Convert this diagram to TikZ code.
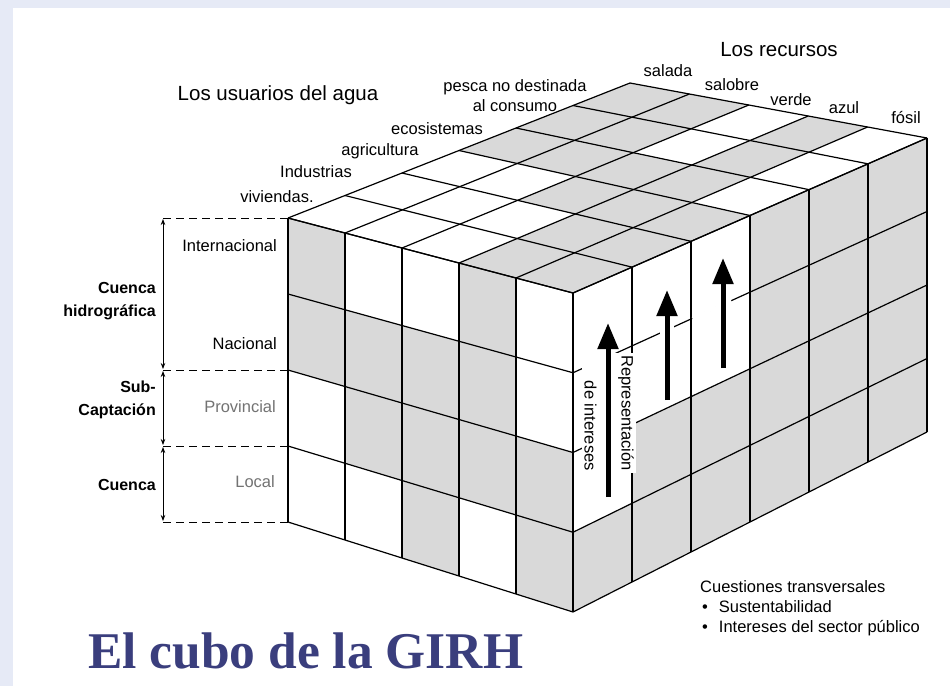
\documentclass[tikz,border=0pt]{standalone}
\usepackage{fontspec}
\setmainfont{Liberation Sans}
\newfontfamily\titlefont{Liberation Serif}
\usetikzlibrary{calc,arrows.meta}
\definecolor{cellgray}{RGB}{217,217,217}
\definecolor{framebg}{RGB}{230,234,246}
\definecolor{titleblue}{RGB}{58,62,125}
\definecolor{levelgray}{RGB}{115,115,115}
\tikzset {
	grid/.style={line width=1.2pt, black},
	shade/.style={fill=cellgray},
	lbl/.style={inner sep=1pt, font=\fontsize{16.5}{20}\selectfont},
	heading/.style={inner sep=1pt, font=\fontsize{20.5}{24}\selectfont},
	axis/.style={inner sep=1pt, anchor=east, align=right, font=\bfseries\fontsize{16}{23}\selectfont},
	level/.style={lbl, anchor=east},
	guide/.style={dash pattern=on 8pt off 5pt, line width=1pt},
	span/.style={{Stealth[length=6pt,width=4.5pt]}-{Stealth[length=6pt,width=4.5pt]}, line width=.8pt, shorten <=1pt, shorten >=1pt},
	rise/.style={-{Triangle[length=26pt,width=20pt]}, line width=5pt},
	gap/.style={white, line width=14pt}
}
\begin{document}
\begin{tikzpicture}[x=1pt,y=-1pt]
% frame
\fill[framebg] (0,0) rectangle (950,686);
\fill[white] (13,8) rectangle (950,686);

% corners of the cube
\coordinate (ftl) at (288,218);
\coordinate (ftr) at (573,293);
\coordinate (fbl) at (288,522);
\coordinate (fbr) at (573,612);
\coordinate (btl) at (630,83);
\coordinate (btr) at (927,138);
\coordinate (bbr) at (927,432);

% grid points: front (f), right side (r), top (t)
\foreach \i in {0,...,5} \foreach \j in {0,...,4} {
	\pgfmathsetmacro\fu{\i/5} \pgfmathsetmacro\fv{\j/4}
	\coordinate (f-\i-\j) at ($($(ftl)!\fu!(ftr)$)!\fv!($(fbl)!\fu!(fbr)$)$);
}
\foreach \i in {0,...,6} \foreach \j in {0,...,4} {
	\pgfmathsetmacro\fu{\i/6} \pgfmathsetmacro\fv{\j/4}
	\coordinate (r-\i-\j) at ($($(ftr)!\fu!(btr)$)!\fv!($(fbr)!\fu!(bbr)$)$);
}
\foreach \i in {0,...,5} \foreach \j in {0,...,6} {
	\pgfmathsetmacro\fu{\i/5} \pgfmathsetmacro\fv{\j/6}
	\coordinate (t-\i-\j) at ($($(ftl)!\fu!(ftr)$)!\fv!($(btl)!\fu!(btr)$)$);
}

% grey cells
\foreach \i/\j [evaluate=\i as \ii using int(\i+1), evaluate=\j as \jj using int(\j+1)]
	in {0/0,3/0,0/1,1/1,2/1,3/1,1/2,2/2,3/2,4/2,2/3,4/3}
	\fill[shade] (f-\i-\j) -- (f-\ii-\j) -- (f-\ii-\jj) -- (f-\i-\jj) -- cycle;
\foreach \i/\j [evaluate=\i as \ii using int(\i+1), evaluate=\j as \jj using int(\j+1)]
	in {3/0,4/0,3/1,4/1,2/2,3/2,4/2,0/3,1/3,2/3,3/3,0/4,1/4,3/4,0/5,1/5,3/5}
	\fill[shade] (t-\i-\j) -- (t-\ii-\j) -- (t-\ii-\jj) -- (t-\i-\jj) -- cycle;
\fill[shade] (r-0-3) -- (r-1-3) -- (r-1-2) -- (r-3-2) -- (r-3-0) -- (r-6-0)
	-- (r-6-4) -- (r-0-4) -- cycle;

% grid lines
\foreach \i in {0,...,5} \draw[grid] (f-\i-0) -- (f-\i-4);
\foreach \j in {0,...,4} \draw[grid] (f-0-\j) -- (f-5-\j);
\foreach \i in {0,...,6} \draw[grid] (r-\i-0) -- (r-\i-4);
\foreach \j in {0,...,4} \draw[grid] (r-0-\j) -- (r-6-\j);
\foreach \i in {0,...,5} \draw[grid] (t-\i-0) -- (t-\i-6);
\foreach \j in {0,...,6} \draw[grid] (t-0-\j) -- (t-5-\j);
\draw[white, line width=3pt, shorten <=1.5pt] (r-2-1) -- ($(r-2-1)!.68!(r-3-1)$);

% representation of interests
\node[rotate=-90, fill=white, align=right, inner sep=2pt,
	font=\fontsize{16.5}{37}\selectfont] (rep) at (609,413) {Representación\\de intereses};
\coordinate (up0s) at (608,497); \coordinate (up0e) at (608,323);
\coordinate (up1s) at (667,400); \coordinate (up1e) at (667,290);
\coordinate (up2s) at (723,368); \coordinate (up2e) at (723,258);
\foreach \k in {0,1,2} {
	\draw[gap] (up\k s) -- (up\k e);
	\draw[rise] (up\k s) -- (up\k e);
}

% levels at the left
\foreach \j/\k in {0/0,2/1,3/2,4/3} {
	\coordinate (m\k) at ($(f-0-\j)+(-125,0)$);
	\draw[guide] (m\k) -- (f-0-\j);
}
\draw[span] (m0) -- (m1);
\draw[span] (m1) -- (m2);
\draw[span] (m2) -- (m3);
\node[level] (intl) at (278,246) {Internacional};
\node[level] (natl) at (278,344) {Nacional};
\node[level, levelgray] (prov) at (277,407) {Provincial};
\node[level, levelgray] (locl) at (276,482) {Local};
\node[axis] (cuh) at (157,301) {Cuenca\\hidrográfica};
\node[axis] (subc) at (157,400) {Sub-\\Captación};
\node[axis] (cue) at (157,485) {Cuenca};

% users of water
\node[heading] (users) at (278,95) {Los usuarios del agua};
\node[lbl] (viv) at (277,197) {viviendas.};
\node[lbl] (ind) at (316,172) {Industrias};
\node[lbl] (agr) at (380,151) {agricultura};
\node[lbl] (eco) at (437,129) {ecosistemas};
\node[lbl, align=center] (pes) at (515,96) {pesca no destinada\\al consumo};

% resources
\node[heading] (res) at (779,50) {Los recursos};
\node[lbl] (sal) at (668,71) {salada};
\node[lbl] (sob) at (732,85) {salobre};
\node[lbl] (ver) at (791,100) {verde};
\node[lbl] (azu) at (844,108) {azul};
\node[lbl] (fos) at (906,118) {fósil};

% cross-cutting issues
\node[lbl, anchor=north west, align=left] (cross) at (699,579)
	{Cuestiones transversales\\\hspace*{2pt}\textbullet\hspace{11pt}Sustentabilidad\\\hspace*{2pt}\textbullet\hspace{11pt}Intereses del sector público};

% title
\node[anchor=base west, inner sep=0pt, text=titleblue,
	font=\titlefont\bfseries\fontsize{51.5}{56}\selectfont] (title) at (88,668) {El cubo de la GIRH};
\end{tikzpicture}
\end{document}
